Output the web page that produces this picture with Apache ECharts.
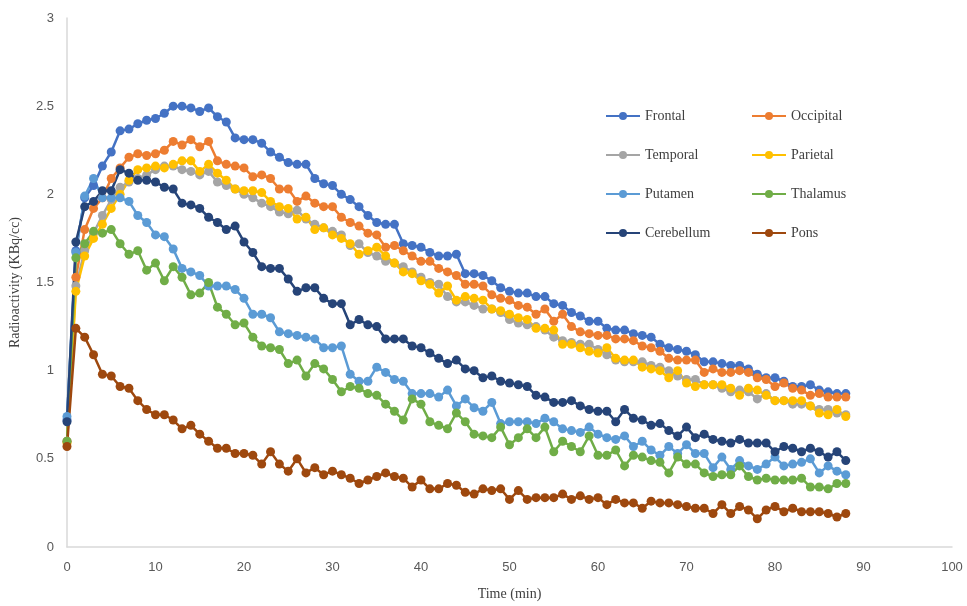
<!DOCTYPE html>
<html>
<head>
<meta charset="utf-8">
<script src="https://cdn.jsdelivr.net/npm/echarts@6/dist/echarts.min.js"></script>
<style>
  html, body { margin: 0; padding: 0; background: #fff; }
  #chart { width: 967px; height: 606px; }
</style>
</head>
<body>
<div id="chart"></div>
<script>
// time points (min)
const times = [0,1,2,3,4,5,6,7,8,9,10,11,12,13,14,15,16,17,18,19,20,21,22,23,24,25,26,27,28,29,
  30,31,32,33,34,35,36,37,38,39,40,41,42,43,44,45,46,47,48,49,50,51,52,53,54,55,56,57,58,59,
  60,61,62,63,64,65,66,67,68,69,70,71,72,73,74,75,76,77,78,79,80,81,82,83,84,85,86,87,88]

// radioactivity (KBq/cc) per region
const frontal = [0.72,1.68,1.98,2.05,2.16,2.24,2.36,2.37,2.40,2.42,2.43,2.46,2.50,2.50,2.49,2.47,2.49,2.44,2.41,2.32,
  2.31,2.31,2.29,2.24,2.21,2.18,2.17,2.17,2.09,2.06,2.05,2.00,1.97,1.93,1.88,1.84,1.83,1.83,1.72,1.71,
  1.70,1.67,1.65,1.65,1.66,1.55,1.55,1.54,1.51,1.47,1.45,1.44,1.44,1.42,1.42,1.38,1.37,1.33,1.31,1.28,
  1.28,1.24,1.23,1.23,1.21,1.20,1.19,1.15,1.13,1.12,1.11,1.09,1.05,1.05,1.04,1.03,1.03,1.01,0.98,0.96,
  0.96,0.94,0.91,0.91,0.92,0.89,0.88,0.87,0.87]
const occipital = [0.60,1.53,1.80,1.92,1.98,2.09,2.15,2.21,2.23,2.22,2.23,2.25,2.30,2.28,2.31,2.27,2.30,2.19,2.17,2.16,
  2.15,2.10,2.11,2.09,2.03,2.03,1.96,1.99,1.95,1.93,1.93,1.87,1.84,1.82,1.78,1.77,1.70,1.71,1.68,1.65,
  1.62,1.62,1.58,1.56,1.54,1.49,1.49,1.48,1.43,1.41,1.40,1.37,1.36,1.32,1.35,1.28,1.32,1.25,1.22,1.21,
  1.20,1.20,1.18,1.18,1.17,1.14,1.13,1.11,1.07,1.06,1.06,1.06,0.99,1.01,0.99,0.99,1.00,0.99,0.96,0.95,
  0.91,0.93,0.90,0.89,0.86,0.87,0.85,0.85,0.85]
const temporal = [0.60,1.48,1.68,1.78,1.88,1.97,2.04,2.07,2.09,2.11,2.14,2.16,2.16,2.14,2.13,2.11,2.13,2.07,2.05,2.03,
  2.00,1.98,1.95,1.93,1.90,1.89,1.91,1.86,1.83,1.81,1.79,1.77,1.71,1.72,1.67,1.65,1.62,1.61,1.59,1.56,
  1.53,1.50,1.49,1.42,1.39,1.39,1.37,1.35,1.35,1.33,1.29,1.27,1.26,1.25,1.23,1.19,1.17,1.16,1.15,1.15,
  1.12,1.09,1.06,1.05,1.05,1.05,1.03,1.02,1.00,0.97,0.95,0.95,0.92,0.92,0.90,0.88,0.89,0.88,0.84,0.87,
  0.83,0.83,0.81,0.81,0.80,0.78,0.78,0.76,0.75]
const parietal = [0.59,1.45,1.65,1.75,1.83,1.92,2.00,2.08,2.14,2.15,2.16,2.15,2.17,2.19,2.19,2.13,2.17,2.12,2.08,2.03,
  2.02,2.02,2.01,1.96,1.93,1.92,1.86,1.87,1.80,1.81,1.77,1.75,1.72,1.66,1.68,1.70,1.65,1.61,1.56,1.55,
  1.51,1.49,1.44,1.48,1.40,1.42,1.41,1.40,1.35,1.34,1.32,1.30,1.29,1.24,1.24,1.23,1.15,1.15,1.13,1.11,
  1.10,1.13,1.07,1.06,1.06,1.02,1.01,1.00,0.96,1.00,0.93,0.91,0.92,0.92,0.92,0.90,0.86,0.90,0.89,0.86,
  0.83,0.83,0.83,0.83,0.80,0.76,0.75,0.78,0.74]
const putamen = [0.74,1.67,1.99,2.09,1.98,1.98,1.98,1.96,1.88,1.84,1.77,1.76,1.69,1.58,1.56,1.54,1.48,1.48,1.48,1.46,
  1.41,1.32,1.32,1.30,1.22,1.21,1.20,1.19,1.18,1.13,1.13,1.14,0.98,0.94,0.94,1.02,0.99,0.95,0.94,0.87,
  0.87,0.87,0.85,0.89,0.80,0.84,0.79,0.77,0.82,0.70,0.71,0.71,0.71,0.70,0.73,0.71,0.67,0.66,0.65,0.68,
  0.64,0.62,0.61,0.63,0.57,0.60,0.55,0.52,0.57,0.53,0.58,0.53,0.53,0.45,0.51,0.44,0.49,0.46,0.44,0.47,
  0.51,0.46,0.47,0.48,0.50,0.42,0.46,0.43,0.41]
const thalamus = [0.60,1.64,1.72,1.79,1.78,1.80,1.72,1.66,1.68,1.57,1.61,1.51,1.59,1.53,1.43,1.44,1.50,1.36,1.32,1.26,
  1.27,1.19,1.14,1.13,1.12,1.04,1.06,0.97,1.04,1.01,0.95,0.88,0.91,0.90,0.87,0.86,0.81,0.77,0.72,0.84,
  0.81,0.71,0.69,0.67,0.76,0.71,0.64,0.63,0.62,0.68,0.58,0.62,0.67,0.62,0.68,0.54,0.60,0.57,0.54,0.63,
  0.52,0.52,0.55,0.46,0.52,0.51,0.49,0.48,0.42,0.51,0.47,0.47,0.42,0.40,0.41,0.41,0.46,0.40,0.38,0.39,
  0.38,0.38,0.38,0.39,0.34,0.34,0.33,0.36,0.36]
const cerebellum = [0.71,1.73,1.93,1.96,2.02,2.02,2.14,2.12,2.08,2.08,2.07,2.04,2.03,1.95,1.94,1.92,1.87,1.84,1.80,1.82,
  1.73,1.67,1.59,1.58,1.58,1.52,1.45,1.47,1.47,1.41,1.38,1.38,1.26,1.29,1.26,1.25,1.18,1.18,1.18,1.14,
  1.13,1.10,1.07,1.04,1.06,1.01,1.00,0.96,0.97,0.94,0.93,0.92,0.91,0.86,0.85,0.82,0.82,0.83,0.80,0.78,
  0.77,0.77,0.71,0.78,0.73,0.72,0.69,0.70,0.66,0.63,0.68,0.62,0.64,0.61,0.60,0.59,0.61,0.59,0.59,0.59,
  0.54,0.57,0.56,0.54,0.56,0.54,0.51,0.54,0.49]
const pons = [0.57,1.24,1.19,1.09,0.98,0.97,0.91,0.90,0.83,0.78,0.75,0.75,0.72,0.67,0.69,0.64,0.60,0.56,0.56,0.53,
  0.53,0.52,0.47,0.54,0.47,0.43,0.50,0.42,0.45,0.41,0.43,0.41,0.39,0.36,0.38,0.40,0.42,0.40,0.39,0.34,
  0.38,0.33,0.33,0.36,0.35,0.31,0.30,0.33,0.32,0.33,0.27,0.32,0.27,0.28,0.28,0.28,0.30,0.27,0.29,0.27,
  0.28,0.24,0.27,0.25,0.25,0.22,0.26,0.25,0.25,0.24,0.23,0.22,0.22,0.19,0.24,0.19,0.23,0.21,0.16,0.21,
  0.23,0.20,0.22,0.20,0.20,0.20,0.19,0.17,0.19]

const regions = ['Frontal', 'Occipital', 'Temporal', 'Parietal', 'Putamen', 'Thalamus', 'Cerebellum', 'Pons']
const values = [frontal, occipital, temporal, parietal, putamen, thalamus, cerebellum, pons]
const colors = ['#4472C4', '#ED7D31', '#A5A5A5', '#FFC000', '#5B9BD5', '#70AD47', '#264478', '#9E480E']

const serif = '"Liberation Serif", "DejaVu Serif", serif'
const sans = '"Liberation Sans", Roboto, sans-serif'

const makeSeries = (name, vals, color) => ({
  name: name,
  type: 'line',
  data: vals.map((v, i) => [times[i], v]),
  symbol: 'circle',
  symbolSize: 9,
  lineStyle: { width: 2.5, color: color },
  itemStyle: { color: color },
  emphasis: { disabled: true },
  animation: false
})

const legendCol = (names, left) => ({
  orient: 'vertical',
  left: left,
  top: 104,
  itemGap: 25,
  itemWidth: 34,
  itemHeight: 10,
  data: names,
  textStyle: { fontFamily: serif, fontSize: 14, color: '#404040' }
})

const chart = echarts.init(document.getElementById('chart'))
chart.setOption({
  backgroundColor: '#fff',
  color: colors,
  grid: { left: 63, right: 15, top: 18, bottom: 49 },
  legend: [
    legendCol(['Frontal', 'Temporal', 'Putamen', 'Cerebellum'], 600),
    legendCol(['Occipital', 'Parietal', 'Thalamus', 'Pons'], 746)
  ],
  xAxis: {
    type: 'value',
    min: 0,
    max: 100,
    interval: 10,
    name: 'Time (min)',
    nameLocation: 'middle',
    nameGap: 40,
    nameTextStyle: { fontFamily: serif, fontSize: 14, color: '#404040' },
    axisLine: { lineStyle: { color: '#d9d9d9', width: 1.5 } },
    axisTick: { show: false },
    splitLine: { show: false },
    axisLabel: { fontFamily: sans, fontSize: 13, color: '#595959', margin: 14 }
  },
  yAxis: {
    type: 'value',
    min: 0,
    max: 3,
    interval: 0.5,
    name: 'Radioactivity (KBq/cc)',
    nameLocation: 'middle',
    nameGap: 45,
    nameTextStyle: { fontFamily: serif, fontSize: 14, color: '#404040' },
    axisLine: { show: true, lineStyle: { color: '#d9d9d9', width: 1.5 } },
    axisTick: { show: false },
    splitLine: { show: false },
    axisLabel: { fontFamily: sans, fontSize: 13, color: '#595959', margin: 13 }
  },
  series: regions.map((r, i) => makeSeries(r, values[i], colors[i]))
})
</script>
</body>
</html>
